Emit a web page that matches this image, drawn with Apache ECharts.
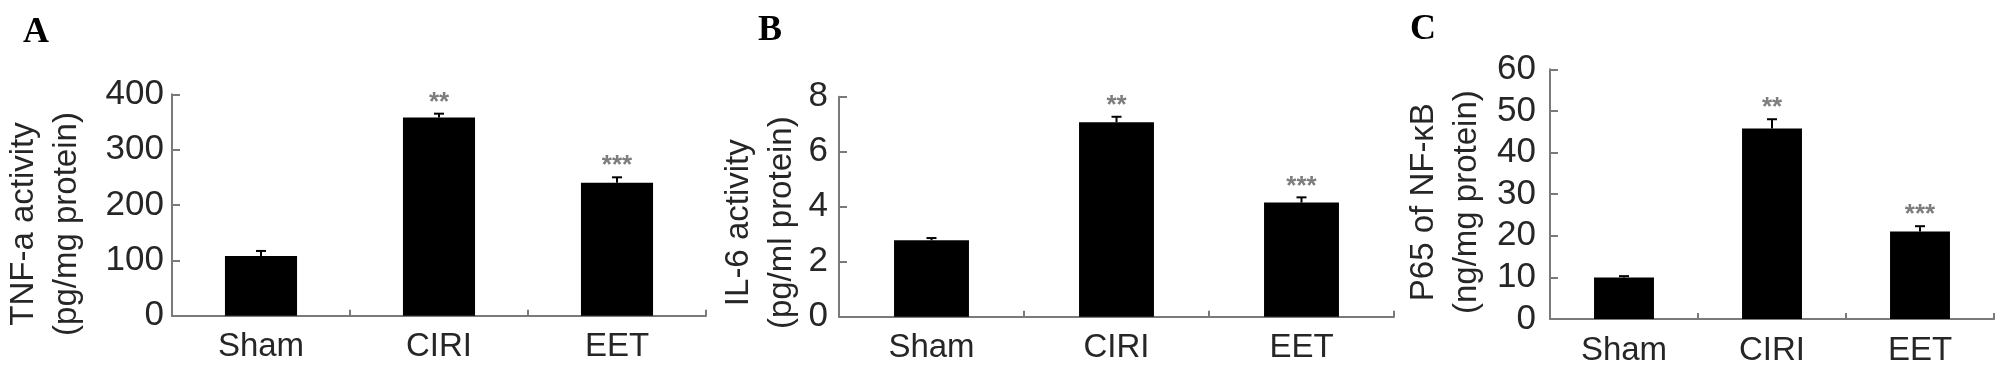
<!DOCTYPE html>
<html>
<head>
<meta charset="utf-8">
<script src="https://cdn.jsdelivr.net/npm/echarts@6/dist/echarts.min.js"></script>
<style>
  html, body { margin: 0; padding: 0; background: #fff; }
  #chart { width: 2008px; height: 372px; }
</style>
</head>
<body>
<div id="chart"></div>
<script>
// ---- data ----
var categories = ['Sham', 'CIRI', 'EET'];
var stars = ['', '**', '***'];

var tnfMean = [108, 358, 240];
var tnfErr  = [9, 7, 10];
var tnfTicks = [0, 100, 200, 300, 400];

var il6Mean = [2.78, 7.07, 4.15];
var il6Err  = [0.08, 0.2, 0.19];
var il6Ticks = [0, 2, 4, 6, 8];

var p65Mean = [10.0, 45.8, 21.0];
var p65Err  = [0.3, 2.2, 1.3];
var p65Ticks = [0, 10, 20, 30, 40, 50, 60];

var panelLetters = ['A', 'B', 'C'];
var yNames = ['TNF-a activity\n(pg/mg protein)', 'IL-6 activity\n(pg/ml protein)', 'P65 of NF-\u03baB\n(ng/mg protein)'];

// ---- layout / style ----
var FONT = 'Liberation Sans';
var AXIS_COLOR = '#7a7a7a';
var TEXT_COLOR = '#262626';

var grids = [
  { left: 172, right: 2008 - 706, top: 94.3, bottom: 372 - 315.7 },
  { left: 839, right: 2008 - 1394, top: 96.7, bottom: 372 - 316.7 },
  { left: 1550, right: 2008 - 1994, top: 69.3, bottom: 372 - 319 }
];
var labelMargins = [8, 11, 14];
var nameGaps = [84, 36, 62];
var nameShift = [19, 16, 8];
var letterPos = [[23, 33], [758, 31], [1410, 30]];

function errRender(stars) {
  return function (params, api) {
    var i = api.value(0), m = api.value(1), e = api.value(2);
    var base = api.coord([i, m]);
    var top = api.coord([i, m + e]);
    var cap = 5;
    var children = [
      { type: 'line', shape: { x1: top[0], y1: base[1], x2: top[0], y2: top[1] }, style: { stroke: '#000', lineWidth: 2 } },
      { type: 'line', shape: { x1: top[0] - cap, y1: top[1], x2: top[0] + cap, y2: top[1] }, style: { stroke: '#000', lineWidth: 2 } }
    ];
    if (stars[i]) {
      children.push({
        type: 'text', x: top[0], y: top[1] - 11,
        style: { text: stars[i], fill: '#7d7d7d', fontSize: 26, fontFamily: FONT, fontWeight: 'bold', align: 'center', verticalAlign: 'middle' }
      });
    }
    return { type: 'group', children: children };
  };
}

var ticksList = [tnfTicks, il6Ticks, p65Ticks];
var means = [tnfMean, il6Mean, p65Mean];
var errs = [tnfErr, il6Err, p65Err];

var option = {
  animation: false,
  backgroundColor: '#fff',
  grid: grids.map(function (g) { return Object.assign({ containLabel: false }, g); }),
  xAxis: grids.map(function (g, k) {
    return {
      type: 'category', gridIndex: k, data: categories,
      axisLine: { show: true, lineStyle: { color: AXIS_COLOR, width: 2 } },
      axisTick: { show: true, inside: true, length: 6, alignWithLabel: false, lineStyle: { color: AXIS_COLOR, width: 2 } },
      axisLabel: { color: TEXT_COLOR, fontSize: 33, fontFamily: FONT, margin: 15 },
      splitLine: { show: false }
    };
  }),
  yAxis: grids.map(function (g, k) {
    var t = ticksList[k];
    return {
      type: 'value', gridIndex: k,
      min: t[0], max: t[t.length - 1], interval: t[1] - t[0],
      name: yNames[k], nameLocation: 'middle', nameGap: nameGaps[k],
      nameTextStyle: { color: TEXT_COLOR, fontSize: 33, fontFamily: FONT, lineHeight: 43, padding: [0, 2 * nameShift[k], 0, 0] },
      axisLine: { show: true, lineStyle: { color: AXIS_COLOR, width: 2 } },
      axisTick: { show: true, inside: true, length: 8, lineStyle: { color: AXIS_COLOR, width: 2 } },
      axisLabel: { color: TEXT_COLOR, fontSize: 35, fontFamily: FONT, margin: labelMargins[k] },
      splitLine: { show: false }
    };
  }),
  graphic: panelLetters.map(function (L, k) {
    return {
      type: 'text', x: letterPos[k][0], y: letterPos[k][1],
      style: { text: L, fill: '#000', fontSize: 36, fontWeight: 'bold', fontFamily: 'Liberation Serif', align: 'left', verticalAlign: 'middle' }
    };
  }),
  series: []
};

for (var k = 0; k < 3; k++) {
  option.series.push({
    type: 'bar', xAxisIndex: k, yAxisIndex: k,
    data: means[k], barWidth: '40.5%',
    itemStyle: { color: '#000' }
  });
  option.series.push({
    type: 'custom', xAxisIndex: k, yAxisIndex: k,
    renderItem: errRender(stars),
    encode: { x: 0, y: 1 },
    data: means[k].map(function (m, i) { return [i, m, errs[k][i]]; }),
    z: 3
  });
}

var chart = echarts.init(document.getElementById('chart'), null, { renderer: 'canvas' });
chart.setOption(option);
</script>
</body>
</html>
